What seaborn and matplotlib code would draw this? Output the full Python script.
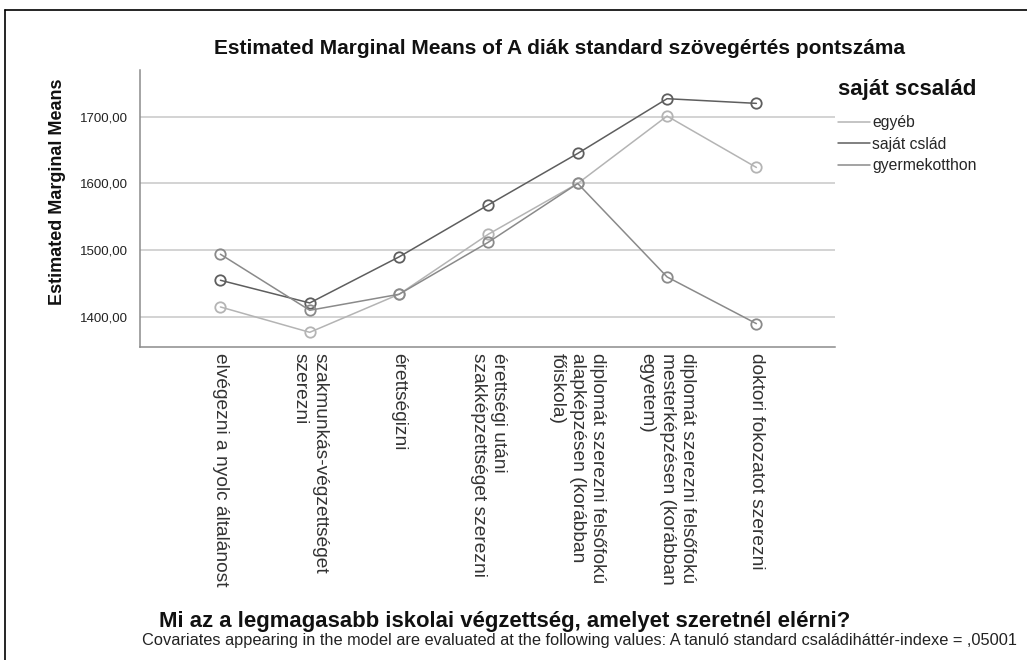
import matplotlib
matplotlib.use("Agg")
import matplotlib.pyplot as plt
from matplotlib.lines import Line2D
import seaborn as sns
import pandas as pd
import numpy as np

categories = [
    "elvégezni a nyolc általánost",
    "szakmunkás-végzettséget\nszerezni",
    "érettségizni",
    "érettségi utáni\nszakképzettséget szerezni",
    "diplomát szerezni felsőfokú\nalapképzésen (korábban\nfőiskola)",
    "diplomát szerezni felsőfokú\nmesterképzésen (korábban\negyetem)",
    "doktori fokozatot szerezni",
]
series_names = ["egyéb", "saját cslád", "gyermekotthon"]
egyeb = [1415, 1377, 1434, 1524, 1600, 1701, 1624]
sajat = [1455, 1421, 1490, 1568, 1645, 1727, 1720]
gyermek = [1494, 1410, 1434, 1512, 1600, 1460, 1390]
yticks = [1400, 1500, 1600, 1700]

colors = {"egyéb": "#b4b4b4", "saját cslád": "#5e5e5e", "gyermekotthon": "#8a8a8a"}

rows = []
for name, vals in zip(series_names, [egyeb, sajat, gyermek]):
    for i, v in enumerate(vals):
        rows.append({"idx": i, "val": v, "group": name})
df = pd.DataFrame(rows)

sns.set_theme(style="white")
plt.rcParams["font.family"] = ["Liberation Sans", "DejaVu Sans"]

fig = plt.figure(figsize=(10.27, 6.6), dpi=100)
ax = fig.add_axes([140 / 1027, 1 - 347 / 660, (835 - 140) / 1027, (347 - 70) / 660])

sns.lineplot(data=df, x="idx", y="val", hue="group", hue_order=series_names,
             palette=colors, marker="o", markersize=7.5, linewidth=1.1,
             legend=False, sort=False, ax=ax, zorder=3)
for ln in ax.lines:
    c = ln.get_color()
    ln.set_markerfacecolor("none")
    ln.set_markeredgecolor(c)
    ln.set_markeredgewidth(1.3)

ax.set_xlim(-0.9, 6.88)
ax.set_ylim(1355, 1770)
ax.set_yticks(yticks)
ax.set_yticklabels([f"{v},00" for v in yticks], fontsize=9.5, color="#222222")
ax.set_xticks(range(len(categories)))
ax.set_xticklabels(categories, rotation=270, ha="center", va="top",
                   fontsize=13.8, color="#333333", linespacing=1.25)
for t in ax.get_xticklabels():
    t.set_multialignment("left")
ax.tick_params(axis="both", length=0)
ax.tick_params(axis="y", pad=9)
ax.tick_params(axis="x", pad=4)
ax.grid(axis="y", color="#c8c8c8", linewidth=1.1)
ax.grid(axis="x", visible=False)
for s in ["top", "right"]:
    ax.spines[s].set_visible(False)
for s in ["left", "bottom"]:
    ax.spines[s].set_color("#8c8c8c")
    ax.spines[s].set_linewidth(1.1)
ax.set_xlabel("")
ax.set_ylabel("")

fig.text(560 / 1027, 1 - 48 / 660,
         "Estimated Marginal Means of A diák standard szövegértés pontszáma",
         ha="center", va="center", fontsize=15, fontweight="bold", color="#111111")
fig.text(57 / 1027, 1 - 192 / 660, "Estimated Marginal Means", rotation=90,
         ha="center", va="center", fontsize=13, fontweight="bold", color="#111111")
fig.text(505 / 1027, 1 - 622 / 660,
         "Mi az a legmagasabb iskolai végzettség, amelyet szeretnél elérni?",
         ha="center", va="center", fontsize=15.9, fontweight="bold", color="#111111")
fig.text(1017 / 1027, 1 - 640 / 660,
         "Covariates appearing in the model are evaluated at the following values: A tanuló standard családiháttér-indexe = ,05001",
         ha="right", va="center", fontsize=11.8, color="#222222")

# legend
fig.text(838 / 1027, 1 - 90 / 660, "saját scsalád", ha="left", va="center",
         fontsize=16, fontweight="bold", color="#111111")
handles = [Line2D([0], [0], color=colors[n], linewidth=1.1) for n in series_names]
leg = fig.legend(handles, series_names,
                 loc="upper left", bbox_to_anchor=(832 / 1027, 1 - 109 / 660),
                 frameon=False, fontsize=11.3,
                 handlelength=2.0, handletextpad=0.15, labelspacing=0.42,
                 borderaxespad=0.0)

# partial frame (top and left edges of screenshot)
fig.add_artist(Line2D([5 / 1027, 1.0], [1 - 10 / 660, 1 - 10 / 660], color="black", linewidth=1.2))
fig.add_artist(Line2D([5 / 1027, 5 / 1027], [0, 1 - 10 / 660], color="black", linewidth=1.2))

fig.savefig("out.png", dpi=100)
